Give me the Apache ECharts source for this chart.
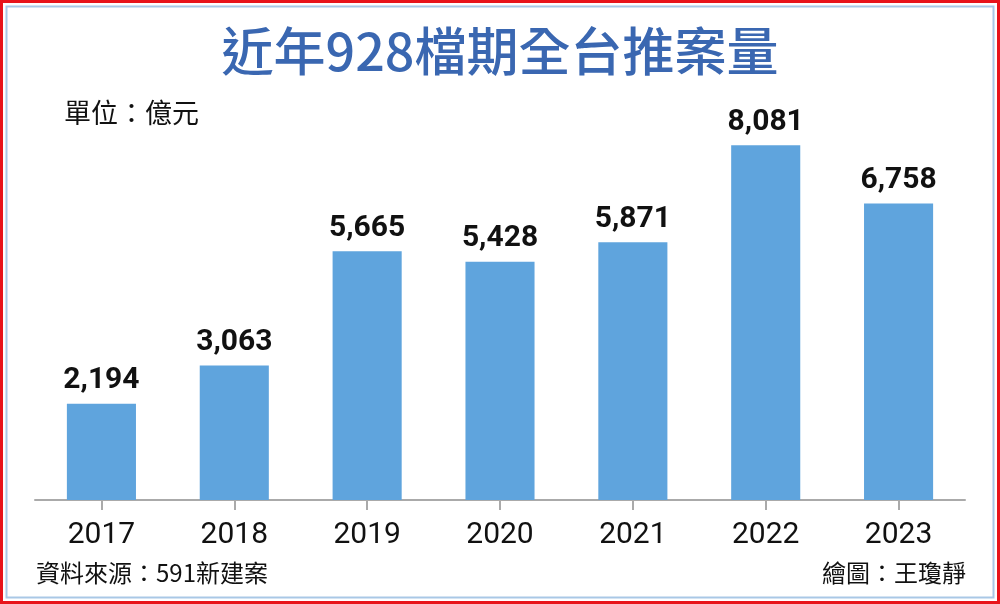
<!DOCTYPE html>
<html>
<head>
<meta charset="utf-8">
<script src="https://cdn.jsdelivr.net/npm/echarts@6/dist/echarts.min.js"></script>
<style>
  html, body { margin: 0; padding: 0; background: #fff; }
  #chart { width: 1000px; height: 604px; }
</style>
</head>
<body>
<div id="chart"></div>
<script>
var years = ['2017', '2018', '2019', '2020', '2021', '2022', '2023'];
var amounts = [2194, 3063, 5665, 5428, 5871, 8081, 6758];

var chart = echarts.init(document.getElementById('chart'));

var option = {
  backgroundColor: '#fff',
  animation: false,
  title: {
    text: '近年928檔期全台推案量',
    left: 'center',
    top: 20,
    textStyle: {
      color: '#3a67b1',
      fontSize: 52,
      fontWeight: 500,
      fontFamily: 'Noto Sans CJK TC'
    }
  },
  graphic: [
    // 外框
    { type: 'rect', shape: { x: 1.5, y: 1.5, width: 997, height: 601 },
      style: { fill: 'none', stroke: '#e8141b', lineWidth: 3 } },
    { type: 'rect', shape: { x: 6.5, y: 6.5, width: 987, height: 591 },
      style: { fill: 'none', stroke: '#a9c8e6', lineWidth: 2 } },
    { type: 'text', left: 64, top: 99,
      style: { text: '單位：億元', fill: '#111', fontSize: 27, fontFamily: 'Noto Sans CJK TC' } },
    { type: 'text', left: 36, top: 561,
      style: { text: '資料來源：591新建案', fill: '#111', fontSize: 24, fontFamily: 'Noto Sans CJK TC' } },
    { type: 'text', right: 34, top: 561,
      style: { text: '繪圖：王瓊靜', fill: '#111', fontSize: 24, fontFamily: 'Noto Sans CJK TC' } }
  ],
  grid: {
    left: 35,
    right: 35,
    top: 105,
    bottom: 104
  },
  xAxis: {
    type: 'category',
    data: years,
    axisLine: { lineStyle: { color: '#aaa', width: 2 } },
    axisTick: { show: true, alignWithLabel: true, length: 10, lineStyle: { color: '#aaa', width: 2 } },
    axisLabel: {
      color: '#111',
      fontSize: 30,
      fontFamily: 'Roboto',
      margin: 20
    }
  },
  yAxis: {
    type: 'value',
    min: 0,
    max: 9000,
    show: false,
    splitLine: { show: false }
  },
  series: [{
    type: 'bar',
    data: amounts,
    barWidth: '52%',
    itemStyle: { color: '#5fa4dd' },
    label: {
      show: true,
      position: 'top',
      distance: 8,
      color: '#111',
      fontSize: 30,
      fontWeight: 'bold',
      fontFamily: 'Roboto',
      formatter: function (p) { return p.value.toLocaleString('en-US'); }
    }
  }]
};

chart.setOption(option);
</script>
</body>
</html>
